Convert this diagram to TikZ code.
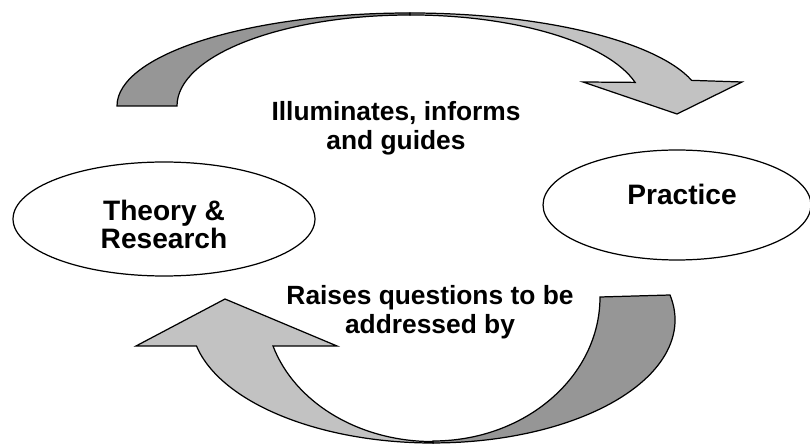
\documentclass[tikz,border=0pt]{standalone}
\usepackage{fontspec}
\setmainfont{Liberation Sans}
\usetikzlibrary{shapes.geometric}
\definecolor{bandDark}{gray}{0.59}
\definecolor{bandLight}{gray}{0.76}
\tikzset{
  band/.style={draw=black, line width=0.7pt, line join=miter},
  oval/.style={ellipse, draw=black, line width=0.7pt, inner sep=0pt},
  ovaltext/.style={font=\bfseries\fontsize{16}{16}\selectfont, align=center, inner sep=0pt},
  caption/.style={font=\bfseries\fontsize{15}{16.5}\selectfont, align=center, inner sep=0pt}
}

\begin{document}
\begin{tikzpicture}[x=0.02cm, y=0.02cm]
\useasboundingbox (0,0) rectangle (810,-445);
% top arrow, left half (dark)
\draw[band, fill=bandDark] (117,-106) arc[start angle=180, end angle=90, x radius=293, y radius=93]
  -- (410,-15) arc[start angle=90, end angle=180, x radius=233, y radius=91] -- cycle;
% top arrow, right half with head
\draw[band, fill=bandLight] (410,-13) arc[start angle=90, end angle=16, x radius=293, y radius=93]
  -- (742,-82) -- (677,-114) -- (583,-82)
  -- (635.1,-82.4) arc[start angle=15, end angle=90, x radius=233, y radius=91] -- cycle;
% bottom arrow, right half (dark tail)
\draw[band, fill=bandDark] (600,-297) -- (670,-295) arc[start angle=11.7, end angle=-90, x radius=242, y radius=123]
  -- (433,-441) arc[start angle=-90, end angle=0, x radius=167, y radius=144] -- cycle;
% bottom arrow, left half with head
\draw[band, fill=bandLight] (433,-443) arc[start angle=-90, end angle=-167.8, x radius=242, y radius=123]
  -- (136,-346) -- (225,-299) -- (337,-346)
  -- (273,-346) arc[start angle=-162.7, end angle=-90, x radius=167, y radius=136] -- cycle;
% the two ovals
\node[oval, minimum width=6.04cm, minimum height=2.28cm] (theory) at (164,-219) {};
\node[oval, minimum width=5.36cm, minimum height=2.2cm] (practice) at (677,-205) {};
\node[ovaltext] (theorytext) at (164,-224.5) {Theory \&\\Research};
\node[ovaltext] (practicetext) at (682,-194.5) {Practice};
% labels on the arrows
\node[caption] (informs) at (396,-128) {Illuminates, informs\\and guides};
\node[caption] (raises) at (430,-312) {Raises questions to be\\addressed by};
\end{tikzpicture}
\end{document}
